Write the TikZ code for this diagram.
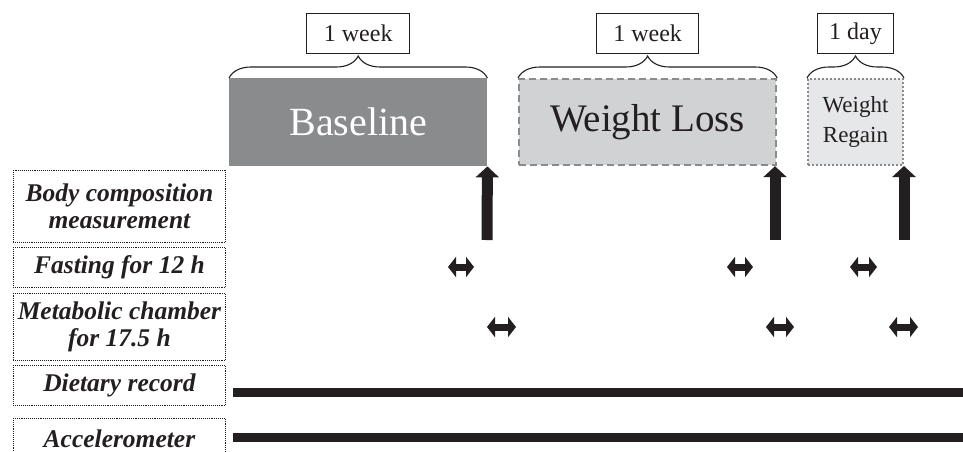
\documentclass[tikz,border=0pt]{standalone}
\usepackage{fontspec}
\setmainfont{Liberation Serif}
\usetikzlibrary{arrows.meta,decorations.pathreplacing,calc}
\definecolor{dkgray}{HTML}{8A8B8D}
\definecolor{midgray}{HTML}{D1D2D4}
\definecolor{ltgray}{HTML}{E6E7E8}
\definecolor{ink}{HTML}{231F20}
\begin{document}
\begin{tikzpicture}[x=1pt,y=-1pt,
  phase/.style={anchor=north west, inner sep=0pt, align=center},
  rowlabel/.style={draw=ink, densely dotted, line width=0.9pt, anchor=north west,
    minimum width=212pt, inner sep=0pt, align=center,
    font=\fontsize{25.5}{27}\selectfont\bfseries\itshape, text=ink},
  durbox/.style={draw=ink, line width=0.9pt, anchor=south, minimum height=40pt,
    inner sep=0pt, font=\fontsize{24}{26}\selectfont, text=ink},
  brc/.style={decorate, decoration={brace, amplitude=22pt}, line width=1.1pt, draw=ink},
  uparr/.style={draw=ink, line width=11pt, -{Triangle[width=23pt,length=11pt]}},
  dblarr/.style={draw=ink, line width=7pt, {Triangle[width=20pt,length=8pt]}-{Triangle[width=20pt,length=8pt]}},
  bar/.style={draw=ink, line width=9pt}
]
\useasboundingbox (0,0) rectangle (963,451);

% phases
\node[phase, fill=dkgray, minimum width=258pt, minimum height=88pt, text=white,
  font=\fontsize{40}{40}\selectfont] (base) at (229,78) {Baseline};
\node[phase, fill=midgray, draw=dkgray, dash pattern=on 7pt off 4pt, line width=2.2pt,
  minimum width=257pt, minimum height=86pt, text=ink,
  font=\fontsize{39}{39}\selectfont] (loss) at (518,78) {Weight Loss};
\node[phase, fill=ltgray, draw=dkgray, dash pattern=on 2pt off 2pt, line width=2pt,
  minimum width=95pt, minimum height=86pt, text=ink,
  font=\fontsize{23}{30}\selectfont] (regain) at (807,78) {Weight\\Regain};

% braces and durations
\draw[brc] (base.north west) -- (base.north east);
\draw[brc] (loss.north west) -- (loss.north east);
\draw[brc] (regain.north west) -- (regain.north east);
\node[durbox, minimum width=103pt] (d1) at ($(base.north)+(0,-24)$) {1 week};
\node[durbox, minimum width=102pt] (d2) at ($(loss.north)+(0,-24)$) {1 week};
\node[durbox, minimum width=76pt] (d3) at ($(regain.north)+(0,-24)$) {1 day};

% row labels
\node[rowlabel, minimum height=72pt] (body) at (13,170) {Body composition\\measurement};
\node[rowlabel, minimum height=40pt] (fast) at (13,247) {Fasting for 12 h};
\node[rowlabel, minimum height=67pt] (meta) at (13,293) {Metabolic chamber\\for 17.5 h};
\node[rowlabel, minimum height=40pt] (diet) at (13,365) {Dietary record};
\node[rowlabel, minimum height=40pt] (accel) at (13,418) {Accelerometer};

% measurement arrows
\coordinate (u1) at (487,240);
\coordinate (u2) at (775,240);
\coordinate (u3) at (904,240);
\draw[uparr] (u1) -- (base.south east);
\draw[uparr] (u2) -- (u2 |- loss.south east);
\draw[uparr] (u3) -- (u3 |- regain.south east);

% fasting
\coordinate (f1a) at (448,267); \coordinate (f1b) at (474,267);
\coordinate (f2a) at (727,267); \coordinate (f2b) at (753,267);
\coordinate (f3a) at (850,267); \coordinate (f3b) at (877,267);
\draw[dblarr] (f1a) -- (f1b);
\draw[dblarr] (f2a) -- (f2b);
\draw[dblarr] (f3a) -- (f3b);

% metabolic chamber
\coordinate (m1a) at (487,327); \coordinate (m1b) at (516,327);
\coordinate (m2a) at (766,327); \coordinate (m2b) at (794,327);
\coordinate (m3a) at (889,327); \coordinate (m3b) at (918,327);
\draw[dblarr] (m1a) -- (m1b);
\draw[dblarr] (m2a) -- (m2b);
\draw[dblarr] (m3a) -- (m3b);

% continuous records
\coordinate (r1a) at (233,392); \coordinate (r1b) at (963,392);
\coordinate (r2a) at (233,437); \coordinate (r2b) at (963,437);
\draw[bar] (r1a) -- (r1b);
\draw[bar] (r2a) -- (r2b);
\end{tikzpicture}
\end{document}
